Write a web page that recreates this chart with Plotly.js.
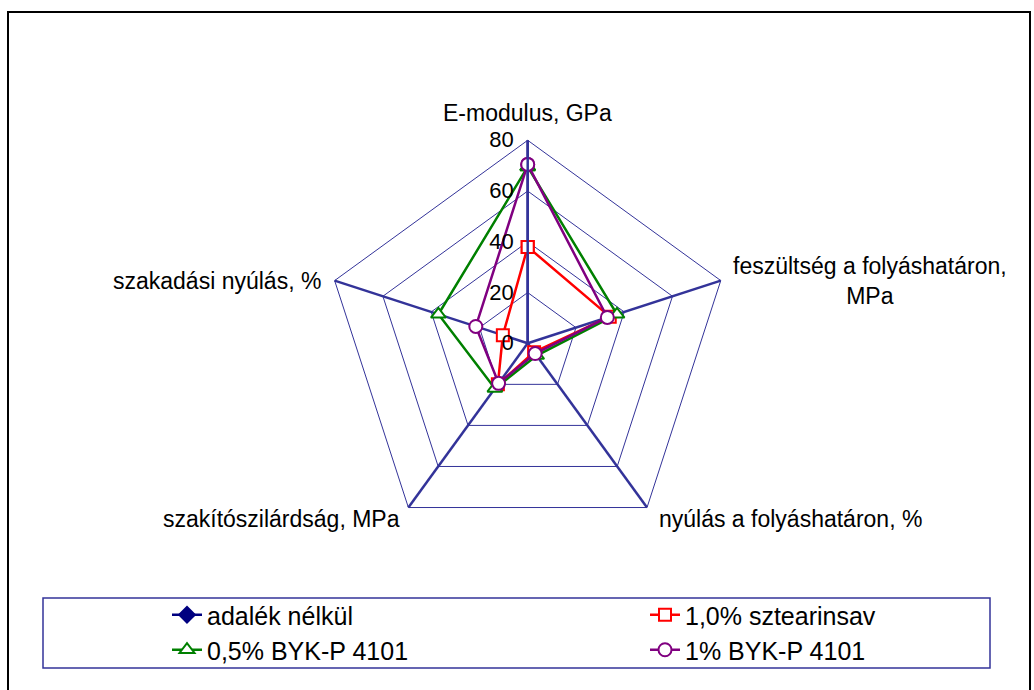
<!DOCTYPE html>
<html>
<head>
<meta charset="utf-8">
<script src="https://cdn.plot.ly/plotly-3.0.1.min.js"></script>
<style>
html,body{margin:0;padding:0;background:#fff;}
#chart{width:1034px;height:690px;}
</style>
</head>
<body>
<div id="chart"></div>
<script>
// ---- data ----
var categories = ["E-modulus, GPa", "feszültség a folyáshatáron, MPa", "nyúlás a folyáshatáron, %", "szakítószilárdság, MPa", "szakadási nyúlás, %"];
var axisLabels = ["E-modulus, GPa", "feszültség a folyáshatáron,<br>MPa", "nyúlás a folyáshatáron, %", "szakítószilárdság, MPa", "szakadási nyúlás, %"];
var seriesNames = ["adalék nélkül", "1,0% sztearinsav", "0,5% BYK-P 4101", "1% BYK-P 4101"];
var adalekNelkul = [null, null, null, null, null];
var sztearinsav10 = [38, 34, 4.3, 20, 10.3];
var byk05 = [69.5, 37, 6, 22, 37];
var byk1 = [70.5, 33, 5, 19.5, 21.5];
var radialTicks = [0, 20, 40, 60, 80];

// ---- layout constants ----
var W = 1034, H = 690;
var CX = 527.7, CY = 343.3, R = 203;
var FONT = "Liberation Sans, Arial, sans-serif";
var NAVY = "#333399";

function closeLoop(a){ return a.concat([a[0]]); }
var theta = closeLoop(categories);

function tr(name, vals, color, symbol, size, legendId){
  return {
    type: "scatterpolar",
    name: name,
    r: closeLoop(vals),
    theta: theta,
    mode: "lines+markers",
    line: {color: color, width: 2.5},
    marker: {symbol: symbol, size: size,
             color: symbol === "diamond" ? color : "#ffffff",
             line: {color: color, width: 2}},
    legend: legendId,
    cliponaxis: false
  };
}

var data = [
  tr(seriesNames[0], adalekNelkul, "#000080", "diamond", 12, "legend"),
  tr(seriesNames[1], sztearinsav10, "#ff0000", "square", 12, "legend2"),
  tr(seriesNames[2], byk05, "#008000", "triangle-up", 13, "legend3"),
  tr(seriesNames[3], byk1, "#800080", "circle", 13, "legend4")
];

// category label annotations around the polygon
var labelPos = [
  {x: 527.5, y: 113, xa: "center"},
  {x: 731, y: 281, xa: "left"},
  {x: 657, y: 519, xa: "left"},
  {x: 402, y: 519, xa: "right"},
  {x: 323, y: 281, xa: "right"}
];
var annotations = axisLabels.map(function(t, i){
  var p = labelPos[i];
  return {text: t, x: p.x / W, y: 1 - p.y / H, xref: "paper", yref: "paper",
          xanchor: p.xa, yanchor: "middle", align: "center", showarrow: false,
          font: {family: FONT, size: 23, color: "#000"}};
});

var shapes = [
  // outer chart border
  {type: "rect", xref: "paper", yref: "paper", x0: 8 / W, x1: 1030 / W, y0: -0.05, y1: 1 - 12 / H,
   line: {color: "#000", width: 2}, fillcolor: "rgba(0,0,0,0)"},
  // legend box
  {type: "rect", xref: "paper", yref: "paper", x0: 43 / W, x1: 990 / W, y0: 1 - 668 / H, y1: 1 - 598 / H,
   line: {color: NAVY, width: 1.5}, fillcolor: "rgba(0,0,0,0)"}
];

function leg(px, py){
  return {
    orientation: "v", xanchor: "left", yanchor: "middle",
    x: px / W, y: 1 - py / H,
    font: {family: FONT, size: 25, color: "#000"},
    bgcolor: "rgba(0,0,0,0)", borderwidth: 0
  };
}

var layout = {
  width: W, height: H,
  margin: {l: 0, r: 0, t: 0, b: 0},
  paper_bgcolor: "#fff",
  font: {family: FONT, size: 22, color: "#000"},
  showlegend: true,
  legend: leg(167, 615),
  legend2: leg(645, 615),
  legend3: leg(167, 650),
  legend4: leg(645, 650),
  annotations: annotations,
  shapes: shapes,
  polar: {
    domain: {x: [(CX - R) / W, (CX + R) / W], y: [(H - CY - R) / H, (H - CY + R) / H]},
    gridshape: "linear",
    bgcolor: "rgba(0,0,0,0)",
    angularaxis: {
      direction: "clockwise", rotation: 90, type: "category",
      categoryarray: categories,
      showticklabels: false, ticks: "",
      showgrid: true, gridcolor: NAVY, gridwidth: 2.5,
      showline: true, linecolor: NAVY, linewidth: 1
    },
    radialaxis: {
      range: [0, 80], tickvals: radialTicks, ticktext: radialTicks.map(String),
      angle: 90, side: "counterclockwise", tickangle: 90,
      showline: true, linecolor: NAVY, linewidth: 2.5,
      showgrid: true, gridcolor: NAVY, gridwidth: 1,
      ticks: "outside", ticklen: 5, tickcolor: "rgba(0,0,0,0)",
      tickfont: {family: FONT, size: 22, color: "#000"}
    }
  }
};

Plotly.newPlot("chart", data, layout, {displayModeBar: false, staticPlot: true});
</script>
</body>
</html>
